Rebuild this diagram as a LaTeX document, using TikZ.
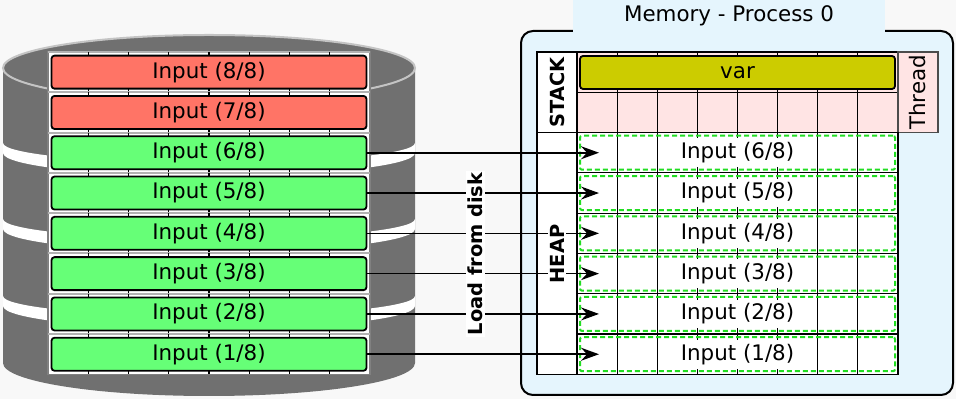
\documentclass[tikz,border=0pt]{standalone}
\usepackage{fontspec}
\setmainfont{DejaVu Sans}
\usepackage{xcolor}
\usepackage{tikz}
\usetikzlibrary{arrows.meta, positioning, calc}
\definecolor{diskgray}{HTML}{707070}
\definecolor{rimgray}{HTML}{C4C4C4}
\definecolor{loadred}{HTML}{FF7466}
\definecolor{loadgreen}{HTML}{66FF77}
\definecolor{memblue}{HTML}{E5F5FD}
\definecolor{stackpink}{HTML}{FFE4E4}
\definecolor{varolive}{HTML}{CCCC00}
\definecolor{dashgreen}{HTML}{22DD22}
\definecolor{bggray}{HTML}{F8F8F8}

\begin{document}
\begin{tikzpicture}[x=0.5pt, y=-0.5pt, font=\fontsize{10.7}{13}\selectfont,
    inbox/.style={draw=black, line width=0.9pt, rounded corners=1.5pt, minimum width=157.5pt, minimum height=16.5pt, inner sep=0pt},
    heapbox/.style={draw=dashgreen, dash pattern=on 2.5pt off 1.5pt, line width=1pt, rounded corners=1pt, minimum width=157.5pt, minimum height=17pt, inner sep=0pt},
    celltext/.style={fill=white, inner sep=2pt},
    sidelabel/.style={rotate=90, font=\fontsize{9.7}{11}\selectfont\bfseries, fill=white, inner sep=1pt},
    loadarrow/.style={-{Stealth[length=9pt, width=6.5pt, inset=3pt]}, line width=0.8pt, shorten >=-10pt}]
    % Background
    \fill[bggray] (0,0) rectangle (956,399);
    \useasboundingbox (0,0) rectangle (956,399);
    
    % Disk
    \fill[diskgray] (3,68) -- (3,363) arc[start angle=180, end angle=0, x radius=206, y radius=33] -- (415,68) -- cycle;
    \foreach \yb in {143,219,296}
        \fill[white] (3,\yb) arc[start angle=180, end angle=0, x radius=206, y radius=20] -- (415,\yb+10) arc[start angle=0, end angle=180, x radius=206, y radius=23] -- cycle;
    \filldraw[fill=diskgray, draw=rimgray, line width=1pt] (209,68) ellipse [x radius=206, y radius=33];
    
    % Input chunks on disk
    \draw[gray, fill=white, line width=0.6pt] (48,52) rectangle (370,374.4);
    \foreach \i in {0,...,7} {
        \draw[gray!60, line width=1pt] (48,52+\i*40.3) -- (370,52+\i*40.3);
        \foreach \j in {1,...,7}
            \draw[line width=0.6pt] (48+\j*40.25,52+\i*40.3) -- ++(0,40.3);
    }
    \foreach \k/\col [evaluate=\k as \yc using 52+(8-\k)*40.3+20.15] in {8/loadred, 7/loadred, 6/loadgreen, 5/loadgreen, 4/loadgreen, 3/loadgreen, 2/loadgreen, 1/loadgreen}
        \node[inbox, fill=\col] (in\k) at (209,\yc) {Input (\k/8)};
    
    % Memory of process 0
    \draw[fill=memblue, line width=1pt, rounded corners=6pt] (521,31) rectangle (953,395);
    \node[fill=memblue, minimum width=156pt, minimum height=16pt, inner sep=0pt] (memtitle) at (729,16) {Memory - Process 0};
    
    % Stack
    \draw[fill=white, line width=0.6pt] (537,52) rectangle (577,374.4);
    \draw[line width=0.6pt] (537,132.6) -- (577,132.6);
    \draw[fill=stackpink, line width=0.6pt] (577,52) rectangle (898,132.6);
    \draw[line width=0.6pt] (577,92.3) -- (898,92.3);
    \foreach \j in {1,...,7}
        \draw[line width=0.6pt] (577+\j*40.125,52) -- (577+\j*40.125,132.6);
    \draw[fill=stackpink, draw=black!70, line width=0.6pt] (898,52) rectangle (938,132.6);
    \node[inbox, fill=varolive] (var) at (737.5,72.5) {var};
    \node[rotate=90] (thread) at (918,92.3) {Thread};
    \node[sidelabel] (stack) at (557,92.3) {STACK};
    
    % Heap
    \foreach \k [evaluate=\k as \yt using 52+(8-\k)*40.3] in {6,...,1} {
        \draw[fill=white, line width=0.6pt] (577,\yt) rectangle (898,\yt+40.3);
        \foreach \j in {1,...,7}
            \draw[line width=0.6pt] (577+\j*40.125,\yt) -- ++(0,40.3);
        \node[heapbox] (h\k) at (737.5,\yt+20.15) {};
        \node[celltext] (ht\k) at (h\k) {Input (\k/8)};
    }
    
    % Loading arrows
    \foreach \k in {6,...,1}
        \draw[loadarrow] (in\k.east) -- (h\k.west);
    \node[sidelabel] (loadlbl) at (475,254) {Load from disk};
    \node[sidelabel] (heap) at (557,254) {HEAP};
    
\end{tikzpicture}
\end{document}
